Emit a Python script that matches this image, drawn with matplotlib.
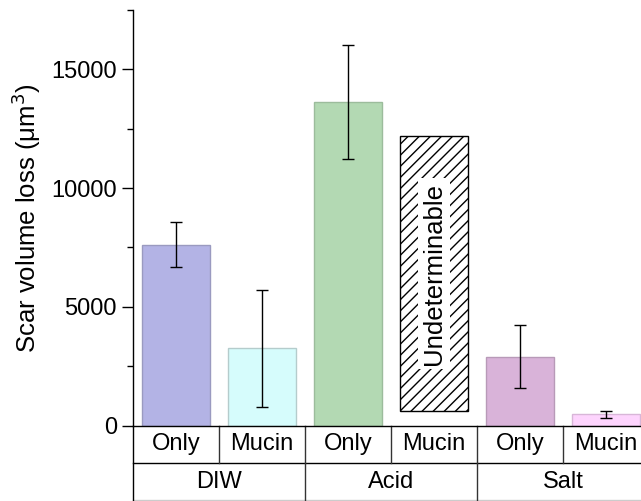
import matplotlib.pyplot as plt
import numpy as np

plt.rcParams['font.family'] = ['Liberation Sans', 'DejaVu Sans']

groups = ['DIW', 'Acid', 'Salt']
conditions = ['Only', 'Mucin', 'Only', 'Mucin', 'Only', 'Mucin']
values = [7620, 3250, 13620, np.nan, 2900, 470]
errors = [930, 2460, 2390, np.nan, 1335, 140]
undet_range = [600, 12200]  # the hatched "Undeterminable" box
colors = ['#b3b3e5', '#d6fcfc', '#b3d9b3', 'white', '#d9b3d9', '#fdd4fd']
edges = ['#9a9ac0', '#b5cccc', '#9cbc9c', 'black', '#b89ab8', '#d8b6d8']

fig = plt.figure(figsize=(6.41, 5.01), dpi=100)
ax = fig.add_axes([133 / 641, 75.5 / 501, 516 / 641, 415.5 / 501])

x = np.arange(len(conditions))
for i in x:
    if np.isnan(values[i]):
        continue
    ax.bar(x[i], values[i], width=0.8, color=colors[i], edgecolor=edges[i], linewidth=1)
    ax.errorbar(x[i], values[i], yerr=errors[i], color='black', capsize=4, elinewidth=1,
                capthick=1, fmt='none')

# undeterminable bar
ax.bar(3, undet_range[1] - undet_range[0], bottom=undet_range[0], width=0.8,
       color='white', edgecolor='black', hatch='///', linewidth=1)
ax.text(3, (undet_range[0] + undet_range[1]) / 2, 'Undeterminable', rotation=90,
        ha='center', va='center', fontsize=18.5,
        bbox=dict(facecolor='white', edgecolor='none', pad=3))

ax.set_xlim(-0.5, 5.5)
ax.set_ylim(0, 17500)
ax.set_yticks([0, 5000, 10000, 15000])
ax.set_yticks([2500, 7500, 12500, 17500], minor=True)
ax.tick_params(axis='y', which='major', length=8, width=1, labelsize=17, direction='out')
ax.tick_params(axis='y', which='minor', length=4, width=1)
ax.set_xticks([])
ax.set_ylabel('Scar volume loss (μm$^3$)', fontsize=18.5, labelpad=6)

for pos in ['right', 'top']:
    ax.spines[pos].set_visible(False)
ax.spines['left'].set_linewidth(1)
ax.spines['bottom'].set_linewidth(1)

# table below the axis
tr = ax.get_xaxis_transform()
row1 = -37.5 / 415.5
row2 = -74.5 / 415.5
ax.plot([-0.5, 5.5], [row1, row1], color='black', lw=1, transform=tr, clip_on=False)
ax.plot([-0.5, 5.5], [row2, row2], color='#cccccc', lw=1, transform=tr, clip_on=False)
ax.plot([-0.5, -0.5], [0, row2], color='black', lw=1, transform=tr, clip_on=False)
for b in [0.5, 1.5, 2.5, 3.5, 4.5]:
    ax.plot([b, b], [0, row1], color='#333333', lw=1, transform=tr, clip_on=False)
for b in [1.5, 3.5]:
    ax.plot([b, b], [row1, row2], color='#333333', lw=1, transform=tr, clip_on=False)
for i, c in enumerate(conditions):
    ax.text(i, row1 / 2, c, ha='center', va='center', fontsize=17, transform=tr)
for j, g in enumerate(groups):
    ax.text(2 * j + 0.5, (row1 + row2) / 2, g, ha='center', va='center', fontsize=17,
            transform=tr)

fig.savefig('out.png', dpi=100)
